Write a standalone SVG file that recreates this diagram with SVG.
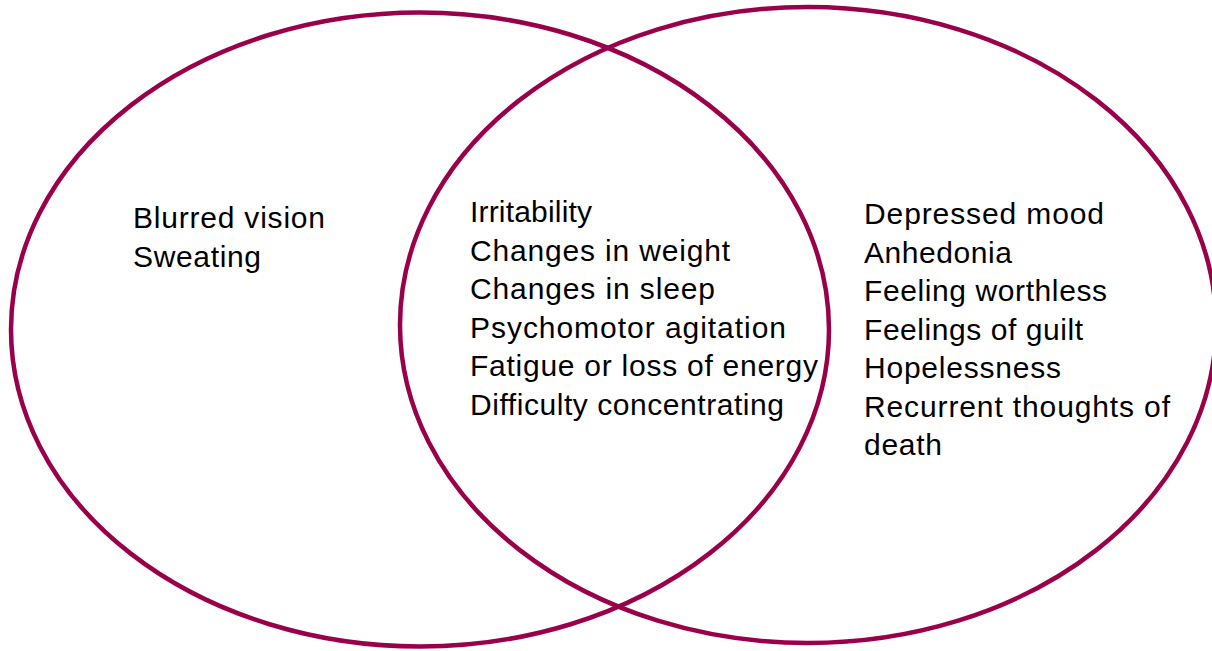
<svg xmlns="http://www.w3.org/2000/svg" width="1212" height="651" viewBox="0 0 1212 651">
<style>
.ring{fill:none;stroke:#9A0049;stroke-width:4.5}
.t{font-family:"Liberation Sans",Arial,sans-serif;font-size:30px;fill:#000}
</style>
<rect width="1212" height="651" fill="#fff"/>
<g id="left-set">
<ellipse class="ring" cx="420" cy="329.5" rx="409" ry="317"/>
<text class="t" x="133" y="228" textLength="192" lengthAdjust="spacing">Blurred vision</text>
<text class="t" x="133" y="266.5" textLength="128" lengthAdjust="spacing">Sweating</text>
</g>
<g id="right-set">
<ellipse class="ring" cx="808" cy="325" rx="408" ry="318"/>
<text class="t" x="864" y="224" textLength="240" lengthAdjust="spacing">Depressed mood</text>
<text class="t" x="864" y="262.5" textLength="148" lengthAdjust="spacing">Anhedonia</text>
<text class="t" x="864" y="301" textLength="243" lengthAdjust="spacing">Feeling worthless</text>
<text class="t" x="864" y="339.5" textLength="219" lengthAdjust="spacing">Feelings of guilt</text>
<text class="t" x="864" y="378" textLength="197" lengthAdjust="spacing">Hopelessness</text>
<text class="t" x="864" y="416.5" textLength="306" lengthAdjust="spacing">Recurrent thoughts of</text>
<text class="t" x="864" y="455" textLength="78" lengthAdjust="spacing">death</text>
</g>
<g id="overlap">
<text class="t" x="470" y="222" textLength="122" lengthAdjust="spacing">Irritability</text>
<text class="t" x="470" y="260.5" textLength="260" lengthAdjust="spacing">Changes in weight</text>
<text class="t" x="470" y="299" textLength="245" lengthAdjust="spacing">Changes in sleep</text>
<text class="t" x="470" y="337.5" textLength="316" lengthAdjust="spacing">Psychomotor agitation</text>
<text class="t" x="470" y="376" textLength="348" lengthAdjust="spacing">Fatigue or loss of energy</text>
<text class="t" x="470" y="414.5" textLength="314" lengthAdjust="spacing">Difficulty concentrating</text>
</g>
<g id="connectors"></g>
</svg>
